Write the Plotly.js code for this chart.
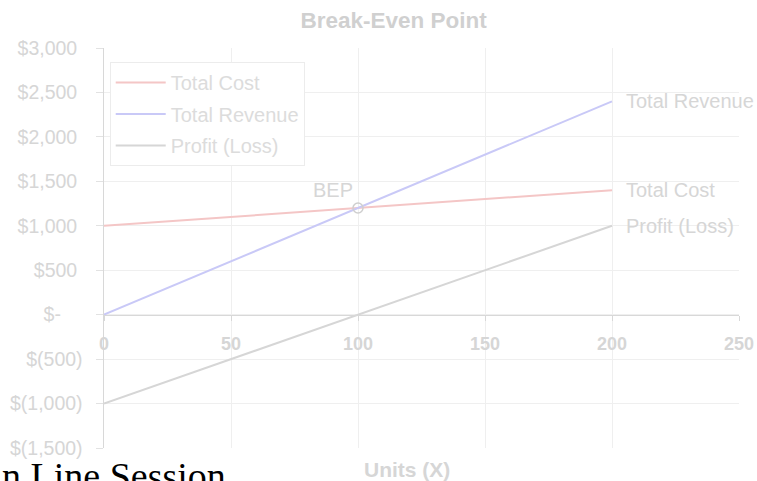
<!DOCTYPE html>
<html>
<head>
<meta charset="utf-8">
<script src="https://cdn.plot.ly/plotly-3.0.1.min.js"></script>
<style>html,body{margin:0;padding:0;background:#fff;}#chart{width:757px;height:481px;}</style>
</head>
<body>
<div id="chart"></div>
<script>
// ---- data ----
const units = [0, 50, 100, 150, 200];
const totalCost = [1000, 1100, 1200, 1300, 1400];
const totalRevenue = [0, 600, 1200, 1800, 2400];
const profitLoss = [-1000, -500, 0, 500, 1000];
const bepUnits = [100];
const bepValue = [1200];
const seriesNames = ["Total Cost", "Total Revenue", "Profit (Loss)"];
const xTickVals = [0, 50, 100, 150, 200, 250];
const yTickVals = [-1500, -1000, -500, 0, 500, 1000, 1500, 2000, 2500, 3000];
const NB = "\u00a0";
const yTickText = ["$(1,500)", "$(1,000)", "$(500)", "$-" + NB + NB + NB + NB,
  "$500" + NB, "$1,000" + NB, "$1,500" + NB, "$2,000" + NB, "$2,500" + NB, "$3,000" + NB];

const FONT = "Liberation Sans, Arial, sans-serif";
const TXT = "#d6d6d6";
const colors = ["#f4c6c6", "#c9c9f7", "#d6d6d6"];
const seriesData = [totalCost, totalRevenue, profitLoss];

const traces = seriesData.map((ys, i) => ({
  x: units, y: ys, type: "scatter", mode: "lines", name: seriesNames[i],
  legendgroup: "g" + i,
  line: {color: colors[i], width: 2}
}));
traces.push({
  x: bepUnits, y: bepValue, type: "scatter", mode: "markers", showlegend: false,
  marker: {symbol: "circle-open", size: 10, color: "#cfcfcf", line: {width: 1.5}}
});

const last = units.length - 1;
const annotations = seriesData.map((ys, i) => ({
  x: units[last], y: ys[last], xref: "x", yref: "y", text: seriesNames[i],
  showarrow: false, xanchor: "left", yanchor: "middle", xshift: 12,
  font: {family: FONT, size: 20, color: TXT}
}));
annotations.push({
  x: bepUnits[0], y: bepValue[0], xref: "x", yref: "y", text: "BEP", showarrow: false,
  xanchor: "right", yanchor: "bottom", xshift: -3, yshift: 5,
  font: {family: FONT, size: 20, color: TXT}
});
annotations.push({
  x: 0.477, y: -0.0525, xref: "paper", yref: "paper", text: "<b>Units (X)</b>", showarrow: false,
  xanchor: "center", yanchor: "middle",
  font: {family: FONT, size: 21, color: TXT}
});
annotations.push({
  x: -0.1638, y: -0.012, xref: "paper", yref: "paper", text: "n Line Session", showarrow: false,
  xanchor: "left", yanchor: "top",
  font: {family: "Liberation Serif, Times New Roman, serif", size: 38, color: "#000"}
});

const layout = {
  width: 757, height: 481,
  margin: {l: 104, r: 18, t: 48, b: 33},
  paper_bgcolor: "#fff", plot_bgcolor: "#fff",
  title: {text: "<b>Break-Even Point</b>", x: 0.52, xref: "container", y: 0.958, yref: "container",
    xanchor: "center", yanchor: "middle", font: {family: FONT, size: 22.5, color: "#d0d0d0"}},
  xaxis: {range: [0, 250], anchor: "free", position: 1/3, tickvals: xTickVals,
    ticks: "outside", ticklen: 5, tickcolor: "#d8d8d8", showline: true, linecolor: "#d8d8d8",
    linewidth: 1.5, showgrid: true, gridcolor: "#efefef", zeroline: false, ticklabelstandoff: 7,
    tickfont: {family: FONT, size: 18, color: TXT, weight: "bold"}},
  yaxis: {range: [-1500, 3000], tickvals: yTickVals, ticktext: yTickText,
    ticks: "outside", ticklen: 7, tickcolor: "#e2e2e2", showline: true, linecolor: "#d8d8d8",
    linewidth: 1.5, showgrid: true, gridcolor: "#efefef", zeroline: false, ticklabelstandoff: 9,
    tickfont: {family: FONT, size: 19.5, color: TXT}},
  showlegend: true,
  legend: {x: 0.009, y: 0.965, xanchor: "left", yanchor: "top", bgcolor: "#fff",
    bordercolor: "#ececec", borderwidth: 1, traceorder: "grouped", tracegroupgap: 2.5,
    itemwidth: 50,
    font: {family: FONT, size: 20, color: "#dcdcdc"}},
  annotations: annotations
};

Plotly.newPlot("chart", traces, layout, {displayModeBar: false, staticPlot: true});
</script>
</body>
</html>
